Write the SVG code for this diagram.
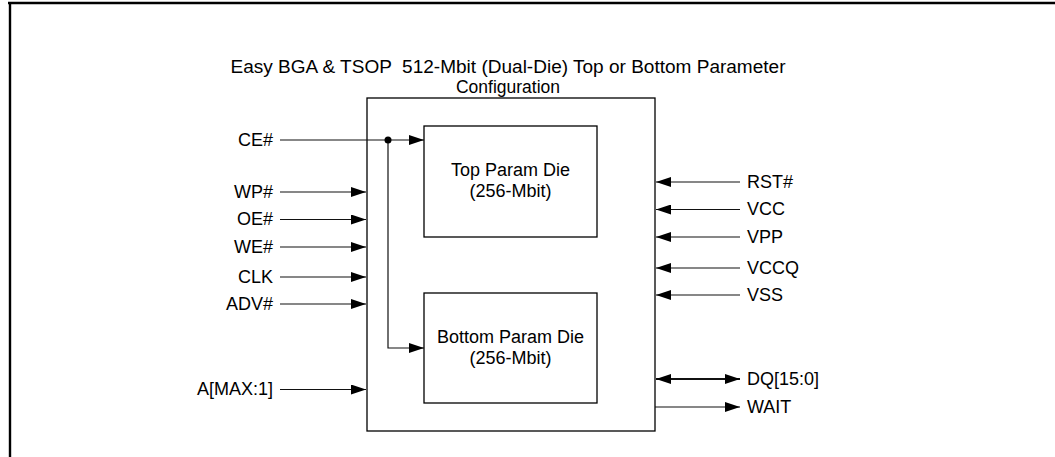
<svg xmlns="http://www.w3.org/2000/svg" width="1055" height="457" viewBox="0 0 1055 457">
<style>
text{font-family:"Liberation Sans",Arial,sans-serif;font-size:18px;fill:#000}
.r{text-anchor:end}
.c{text-anchor:middle}
.t{font-size:17.5px;white-space:pre}
.box{fill:#fff;stroke:#000;stroke-width:1.3}
.ln{fill:none;stroke:#111;stroke-width:1.2}
.arr{marker-end:url(#ah)}
.frame{stroke:#000;stroke-width:2.4;fill:none}
</style>
<defs>
<marker id="ah" viewBox="0 0 15 10" refX="15" refY="5" markerWidth="15" markerHeight="10" markerUnits="userSpaceOnUse" orient="auto-start-reverse">
<path d="M0,0 L15,5 L0,10 Z" fill="#000"/>
</marker>
</defs>
<g id="frame">
<path class="frame" d="M8,3 H1055 M10,2 V457"/>
</g>
<g id="title">
<text class="c t" x="508" y="73" xml:space="preserve" textLength="555" lengthAdjust="spacingAndGlyphs">Easy BGA &amp; TSOP  512-Mbit (Dual-Die) Top or Bottom Parameter</text>
<text class="c t" x="508" y="93">Configuration</text>
</g>
<g id="package">
<rect class="box" x="367" y="98" width="288" height="333"/>
</g>
<g id="top-die">
<rect class="box" x="424" y="126" width="173" height="111"/>
<text class="c" x="510.5" y="176">Top Param Die</text>
<text class="c" x="510.5" y="197">(256-Mbit)</text>
</g>
<g id="bottom-die">
<rect class="box" x="424" y="293" width="173" height="110"/>
<text class="c" x="510.5" y="343">Bottom Param Die</text>
<text class="c" x="510.5" y="364">(256-Mbit)</text>
</g>
<g id="left-labels">
<text class="r" x="273" y="146">CE#</text>
<text class="r" x="273" y="198">WP#</text>
<text class="r" x="273" y="225">OE#</text>
<text class="r" x="273" y="253">WE#</text>
<text class="r" x="273" y="283">CLK</text>
<text class="r" x="273" y="310">ADV#</text>
<text class="r" x="273" y="395">A[MAX:1]</text>
</g>
<g id="right-labels">
<text x="747" y="188">RST#</text>
<text x="747" y="215">VCC</text>
<text x="747" y="243">VPP</text>
<text x="747" y="274">VCCQ</text>
<text x="747" y="301">VSS</text>
<text x="747" y="385">DQ[15:0]</text>
<text x="747" y="413">WAIT</text>
</g>
<g id="connectors">
<path class="ln arr" d="M280,140 H424"/>
<path class="ln arr" d="M388,140 V348 H424"/>
<circle cx="388" cy="140" r="3.5" fill="#000"/>
<path class="ln arr" d="M280,192 H366"/>
<path class="ln arr" d="M280,219.5 H366"/>
<path class="ln arr" d="M280,247 H366"/>
<path class="ln arr" d="M280,277 H366"/>
<path class="ln arr" d="M280,304 H366"/>
<path class="ln arr" d="M280,389.5 H366"/>
<path class="ln arr" d="M740,182 H656"/>
<path class="ln arr" d="M740,209.5 H656"/>
<path class="ln arr" d="M740,237 H656"/>
<path class="ln arr" d="M740,268 H656"/>
<path class="ln arr" d="M740,295 H656"/>
<path class="ln" style="stroke-width:2;marker-start:url(#ah);marker-end:url(#ah)" d="M656,379 H740"/>
<path class="ln arr" d="M655,407 H740"/>
</g>
</svg>
